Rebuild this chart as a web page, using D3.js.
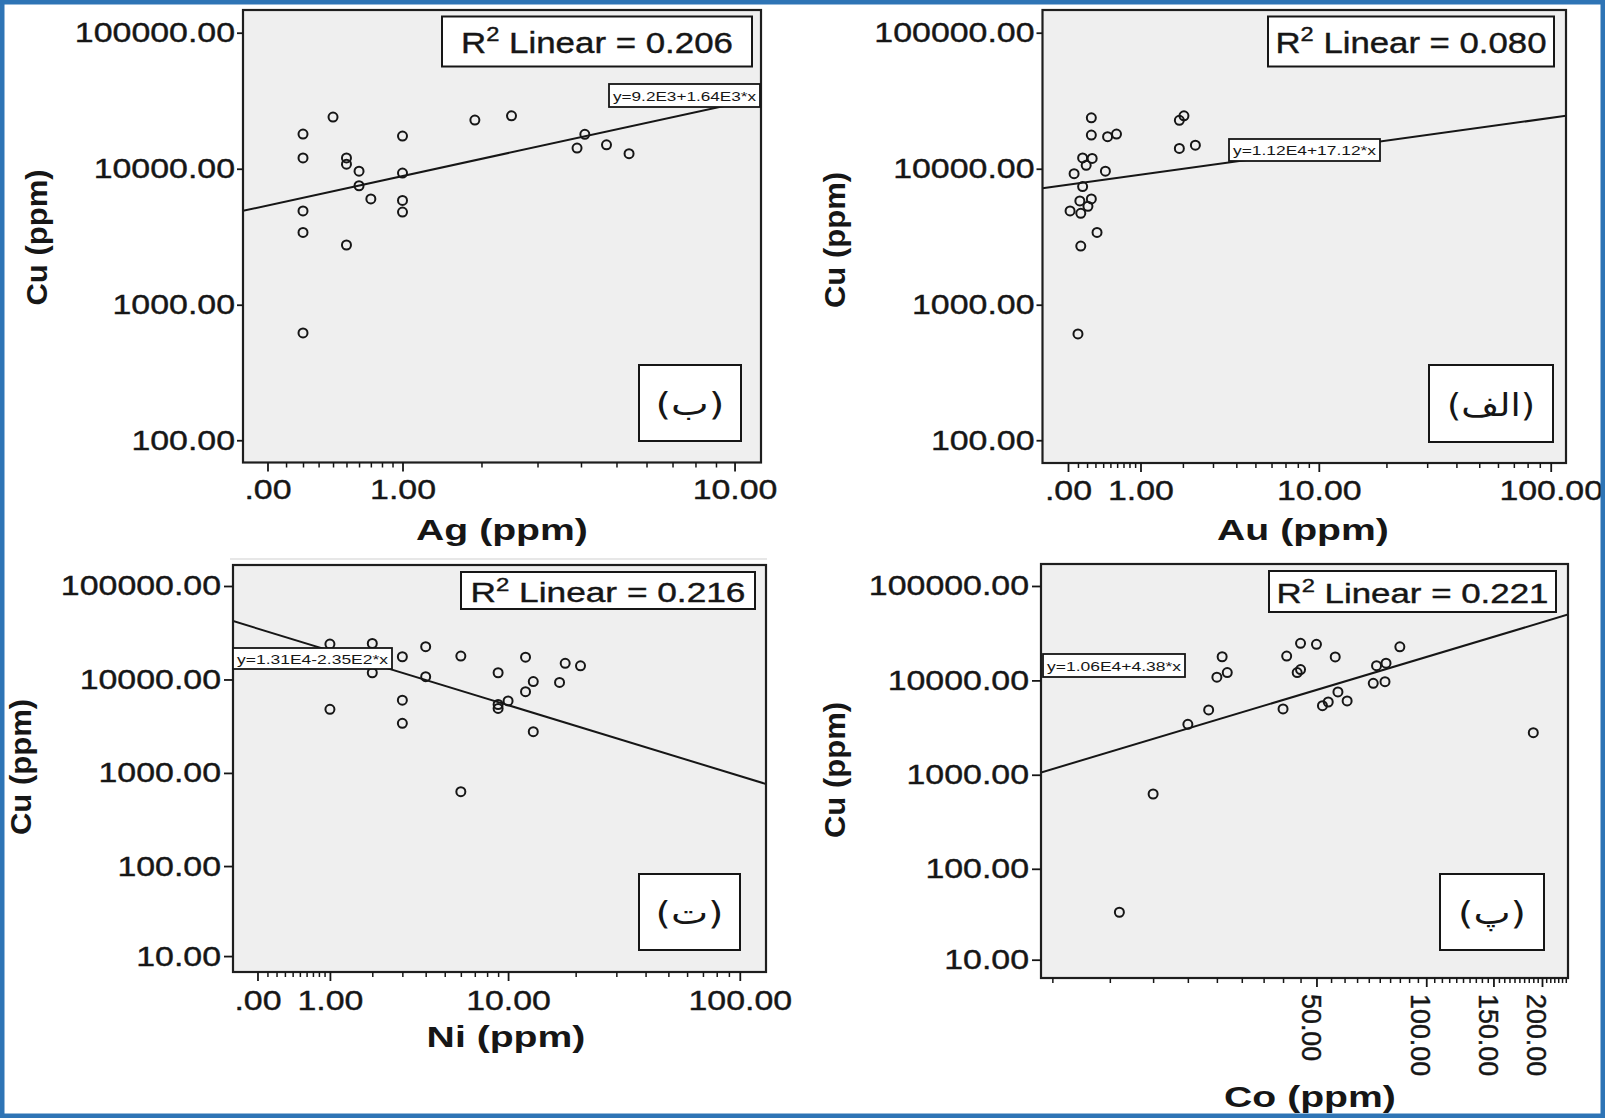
<!DOCTYPE html>
<html>
<head>
<meta charset="utf-8">
<script src="https://cdn.jsdelivr.net/npm/d3@7"></script>
<style>
html, body { margin: 0; padding: 0; background: #ffffff; overflow: hidden; }
svg { display: block; }
</style>
</head>
<body>
<svg id="chart" width="1605" height="1118"></svg>
<script>
// ---------------- DATA ----------------
const yTitle = "Cu (ppm)";

// Panel (ب): Ag vs Cu
const agValues = [0.4, 0.2, 0.2, 0.5, 0.5, 0.6, 0.6, 0.7, 0.2, 0.2, 0.5, 0.2, 1.0, 1.0, 1.0, 1.0, 1.9, 2.5, 4.1, 3.9, 4.7, 5.4];
const agCu     = [24000, 18000, 12000, 12000, 10800, 9600, 7500, 6000, 4900, 3400, 2750, 620, 17400, 9300, 5850, 4800, 22800, 24500, 17900, 14200, 15000, 12900];
const agFit    = [[-0.134, 4900], [11.6, 33200]];
const agAxisDomain = [-0.134, 11.6];
const agTicks  = [0, 1, 10];
const agTickLabels = [".00", "1.00", "10.00"];

// Panel (الف): Au vs Cu
const auValues = [0.25, 0.25, 0.46, 0.59, 0.15, 0.26, 0.19, 0.06, 0.43, 0.15, 0.12, 0.25, 0.21, 0.02, 0.13, 0.32, 0.13, 0.10, 1.90, 2.03, 1.90, 2.38];
const auCu     = [23700, 17700, 17200, 18000, 12000, 11900, 10600, 9200, 9600, 7400, 5800, 6000, 5300, 4900, 4700, 3400, 2700, 610, 22700, 24500, 14100, 14900];
const auFit    = [[-0.276, 7190], [115.9, 24500]];
const auAxisDomain = [-0.276, 115.9];
const auTicks  = [0, 1, 10, 100];
const auTickLabels = [".00", "1.00", "10.00", "100.00"];

// Panel (ت): Ni vs Cu
const niValues = [1, 2, 2, 3, 4, 4, 6, 1, 3, 3, 6, 9, 9, 9, 10, 12, 12, 13, 13, 17, 18, 21];
const niCu     = [23900, 24300, 11800, 17500, 22400, 10700, 17800, 4800, 6000, 3400, 630, 11800, 5400, 4900, 5900, 17300, 7400, 9500, 2760, 9300, 14900, 14000];
const niFit    = [[-0.264, 42200], [128.8, 761]];
const niAxisDomain = [-0.264, 128.8];
const niTicks  = [0, 1, 10, 100];
const niTickLabels = [".00", "1.00", "10.00", "100.00"];

// Panel (پ): Co vs Cu
const coValues = [26, 27, 25, 23.5, 20, 15, 45, 50, 41, 56.5, 45, 44, 40, 57.5, 61, 52, 54, 85, 73.5, 78, 72, 77.5, 190, 11];
const coCu     = [17800, 12100, 10800, 4860, 3420, 625, 24700, 24100, 18100, 17700, 13000, 12100, 4980, 7540, 6050, 5390, 5900, 22700, 14300, 15200, 9310, 9690, 2790, 34];
const coFit    = [[4.19, 1056], [233, 49800]];
const coAxisDomain = [4.19, 233];
const coTicks  = [50, 100, 150, 200];
const coTickLabels = ["50.00", "100.00", "150.00", "200.00"];

// Y (Cu) axes
const cuTicksTop = [100, 1000, 10000, 100000];
const cuTickLabelsTop = ["100.00", "1000.00", "10000.00", "100000.00"];
const cuTicksBottom = [10, 100, 1000, 10000, 100000];
const cuTickLabelsBottom = ["10.00", "100.00", "1000.00", "10000.00", "100000.00"];
const cuDomainAg = [68.3, 146900];
const cuDomainAu = [67.7, 146900];
const cuDomainNi = [6.43, 167700];
const cuDomainCo = [6.04, 170900];

// Annotations
const r2Values = ["0.206", "0.080", "0.216", "0.221"];
const equations = ["y=9.2E3+1.64E3*x", "y=1.12E4+17.12*x", "y=1.31E4-2.35E2*x", "y=1.06E4+4.38*x"];
const panelLetters = ["(ب)", "(الف)", "(ت)", "(پ)"];
const xTitles = ["Ag (ppm)", "Au (ppm)", "Ni (ppm)", "Co (ppm)"];

// minor tick values
const minorLog = [0.1,0.2,0.3,0.4,0.5,0.6,0.7,0.8,0.9,2,3,4,5,6,7,8,9,20,30,40,50,60,70,80,90];
const minorCo = d3.range(5, 235, 5).filter(v => v % 50 !== 0);

// ---------------- DRAWING ----------------
const svg = d3.select("#chart");
const FONT = "'Liberation Sans', Arial, Helvetica, sans-serif";
const INK = "#161616";

function stretch(sel, factor) {
  sel.each(function () {
    const len = this.getComputedTextLength();
    d3.select(this).attr("textLength", len * factor).attr("lengthAdjust", "spacingAndGlyphs");
  });
}
function fixWidth(sel, w) {
  sel.attr("textLength", w).attr("lengthAdjust", "spacingAndGlyphs");
}

const panels = [
  { id: 1, xs: agValues, ys: agCu, fit: agFit, xDomain: agAxisDomain, xConst: 1, yDomain: cuDomainAg,
    xTicks: agTicks, xLabels: agTickLabels, xMinor: minorLog.filter(v => v < 10),
    yTicks: cuTicksTop, yLabels: cuTickLabelsTop, idx: 0,
    box: { x0: 243, x1: 761, y0: 10, y1: 462.5 },
    yTickSize: 6, yPad: 2, xLabelPad: 8,
    r2Box: [442, 16.5, 310, 50], r2Font: 29, r2W: 272,
    eqBox: [609, 84, 151, 23],
    letterBox: [639, 365, 102, 76], letterW: 69,
    yTitlePos: [47, 237.5], xTitlePos: [502, 540] },
  { id: 2, xs: auValues, ys: auCu, fit: auFit, xDomain: auAxisDomain, xConst: 1, yDomain: cuDomainAu,
    xTicks: auTicks, xLabels: auTickLabels, xMinor: minorLog,
    yTicks: cuTicksTop, yLabels: cuTickLabelsTop, idx: 1,
    box: { x0: 1042.5, x1: 1566, y0: 10, y1: 463 },
    yTickSize: 6, yPad: 2, xLabelPad: 8,
    r2Box: [1268, 16.5, 286, 50], r2Font: 29, r2W: 271,
    eqBox: [1229, 139, 151, 22],
    letterBox: [1429, 365, 124, 77], letterW: 88,
    yTitlePos: [845, 240], xTitlePos: [1303, 540] },
  { id: 3, xs: niValues, ys: niCu, fit: niFit, xDomain: niAxisDomain, xConst: 1, yDomain: cuDomainNi,
    xTicks: niTicks, xLabels: niTickLabels, xMinor: minorLog,
    yTicks: cuTicksBottom, yLabels: cuTickLabelsBottom, idx: 2,
    box: { x0: 233, x1: 766, y0: 565, y1: 972 },
    yTickSize: 9, yPad: 3, xLabelPad: 9,
    r2Box: [461, 572, 294, 37], r2Font: 27, r2W: 275,
    eqBox: [233, 648, 159, 21],
    letterBox: [639, 874, 101, 76], letterW: 68,
    yTitlePos: [30.5, 767], xTitlePos: [506, 1047] },
  { id: 4, xs: coValues, ys: coCu, fit: coFit, xDomain: coAxisDomain, xConst: 8, yDomain: cuDomainCo,
    xTicks: coTicks, xLabels: coTickLabels, xMinor: minorCo,
    yTicks: cuTicksBottom, yLabels: cuTickLabelsBottom, idx: 3, rotated: true,
    box: { x0: 1041, x1: 1568, y0: 564, y1: 978 },
    yTickSize: 9, yPad: 3, xLabelPad: 9,
    r2Box: [1269, 571, 287, 41], r2Font: 27, r2W: 272,
    eqBox: [1043, 654, 142, 23],
    letterBox: [1440, 874, 104, 76], letterW: 68,
    yTitlePos: [845, 770], xTitlePos: [1310, 1107] }
];

const defs = svg.append("defs");

panels.forEach(p => {
  const g = svg.append("g");
  const b = p.box;
  const x = d3.scaleSymlog().constant(p.xConst).domain(p.xDomain).range([b.x0, b.x1]);
  const y = d3.scaleSymlog().constant(1).domain(p.yDomain).range([b.y1, b.y0]);

  // plot background
  g.append("rect").attr("x", b.x0).attr("y", b.y0).attr("width", b.x1 - b.x0).attr("height", b.y1 - b.y0)
    .attr("fill", "#efefef");

  defs.append("clipPath").attr("id", "clip" + p.id).append("rect")
    .attr("x", b.x0).attr("y", b.y0).attr("width", b.x1 - b.x0).attr("height", b.y1 - b.y0);
  const pg = g.append("g").attr("clip-path", `url(#clip${p.id})`);

  // points
  pg.selectAll("circle").data(d3.zip(p.xs, p.ys)).join("circle")
    .attr("cx", d => x(d[0])).attr("cy", d => y(d[1])).attr("r", 4.5)
    .attr("fill", "none").attr("stroke", INK).attr("stroke-width", 2);

  // fit line
  pg.append("line")
    .attr("x1", x(p.fit[0][0])).attr("y1", y(p.fit[0][1]))
    .attr("x2", x(p.fit[1][0])).attr("y2", y(p.fit[1][1]))
    .attr("stroke", INK).attr("stroke-width", 2);

  // plot frame
  g.append("rect").attr("x", b.x0).attr("y", b.y0).attr("width", b.x1 - b.x0).attr("height", b.y1 - b.y0)
    .attr("fill", "none").attr("stroke", "#1e1e1e").attr("stroke-width", 2.2);

  // y axis
  const yLab = new Map(p.yTicks.map((v, i) => [v, p.yLabels[i]]));
  const ya = g.append("g").attr("transform", `translate(${b.x0},0)`)
    .call(d3.axisLeft(y).tickValues(p.yTicks).tickFormat(d => yLab.get(d)).tickSize(p.yTickSize).tickPadding(p.yPad));
  ya.select(".domain").remove();
  ya.selectAll(".tick line").attr("stroke", INK).attr("stroke-width", 1.8);
  ya.selectAll(".tick text").attr("font-family", FONT).attr("font-size", 28).attr("fill", INK)
    .attr("stroke", INK).attr("stroke-width", 0.4);
  stretch(ya.selectAll(".tick text"), 1.21);

  // x axis minor ticks
  const xm = g.append("g").attr("transform", `translate(0,${b.y1})`)
    .call(d3.axisBottom(x).tickValues(p.xMinor.filter(v => v > p.xDomain[0] && v < p.xDomain[1])).tickSize(5).tickFormat(""));
  xm.select(".domain").remove();
  xm.selectAll(".tick line").attr("stroke", INK).attr("stroke-width", 1.5);

  // x axis major ticks
  const xLab = new Map(p.xTicks.map((v, i) => [v, p.xLabels[i]]));
  const xa = g.append("g").attr("transform", `translate(0,${b.y1})`)
    .call(d3.axisBottom(x).tickValues(p.xTicks).tickFormat(d => xLab.get(d)).tickSize(9).tickPadding(p.xLabelPad));
  xa.select(".domain").remove();
  xa.selectAll(".tick line").attr("stroke", INK).attr("stroke-width", 1.8);
  const xt = xa.selectAll(".tick text").attr("font-family", FONT).attr("font-size", 28).attr("fill", INK)
    .attr("stroke", INK).attr("stroke-width", 0.4);
  if (p.rotated) {
    xt.attr("transform", "rotate(90)").attr("x", 16).attr("y", 0).attr("dy", "0.55em")
      .attr("text-anchor", "start");
    stretch(xt, 0.96);
  } else {
    stretch(xt, 1.21);
  }

  // titles
  const xtit = g.append("text").attr("x", p.xTitlePos[0]).attr("y", p.xTitlePos[1])
    .attr("text-anchor", "middle").attr("font-family", FONT).attr("font-weight", "bold")
    .attr("font-size", 29).attr("fill", INK).text(xTitles[p.idx]);
  stretch(xtit, 1.35);
  const ytit = g.append("text").attr("transform", `translate(${p.yTitlePos[0]},${p.yTitlePos[1]}) rotate(-90)`)
    .attr("text-anchor", "middle").attr("font-family", FONT).attr("font-weight", "bold")
    .attr("font-size", 29).attr("fill", INK).text(yTitle);
  stretch(ytit, 1.07);

  // R² box
  const rb = p.r2Box;
  g.append("rect").attr("x", rb[0]).attr("y", rb[1]).attr("width", rb[2]).attr("height", rb[3])
    .attr("fill", "#ffffff").attr("stroke", INK).attr("stroke-width", 2);
  const f = p.r2Font;
  const rt = g.append("text").attr("x", rb[0] + rb[2] / 2).attr("y", rb[1] + rb[3] / 2 + 11)
    .attr("text-anchor", "middle").attr("font-family", FONT).attr("font-size", f).attr("fill", INK)
    .attr("stroke", INK).attr("stroke-width", 0.4);
  rt.append("tspan").text("R");
  rt.append("tspan").attr("font-size", f * 0.68).attr("dy", -f * 0.4).text("2");
  rt.append("tspan").attr("dy", f * 0.4).text(" Linear = " + r2Values[p.idx]);
  fixWidth(rt, p.r2W);

  // equation label
  const eb = p.eqBox;
  g.append("rect").attr("x", eb[0]).attr("y", eb[1]).attr("width", eb[2]).attr("height", eb[3])
    .attr("fill", "#ffffff").attr("stroke", INK).attr("stroke-width", 1.8);
  const et = g.append("text").attr("x", eb[0] + 4).attr("y", eb[1] + eb[3] / 2 + 5)
    .attr("font-family", FONT).attr("font-size", 13.5).attr("fill", INK).text(equations[p.idx]);
  fixWidth(et, eb[2] - 8);

  // panel letter box
  const lb = p.letterBox;
  g.append("rect").attr("x", lb[0]).attr("y", lb[1]).attr("width", lb[2]).attr("height", lb[3])
    .attr("fill", "#ffffff").attr("stroke", INK).attr("stroke-width", 2);
  const lt = g.append("text").attr("x", lb[0] + lb[2] / 2).attr("y", lb[1] + lb[3] / 2 + 12)
    .attr("text-anchor", "middle").attr("font-family", "'DejaVu Sans', 'Noto Sans', sans-serif")
    .attr("font-size", 32).attr("fill", INK).text(panelLetters[p.idx]);
  fixWidth(lt, p.letterW);
});

// faint image seam between top-left and bottom-left figures
svg.append("line").attr("x1", 230).attr("x2", 767).attr("y1", 559).attr("y2", 559)
  .attr("stroke", "#cfcfcf").attr("stroke-width", 1);

// blue outer frame
svg.append("rect").attr("x", 2.25).attr("y", 2.25).attr("width", 1600.5).attr("height", 1113.5)
  .attr("fill", "none").attr("stroke", "#2e74b5").attr("stroke-width", 4.5);
</script>
</body>
</html>
